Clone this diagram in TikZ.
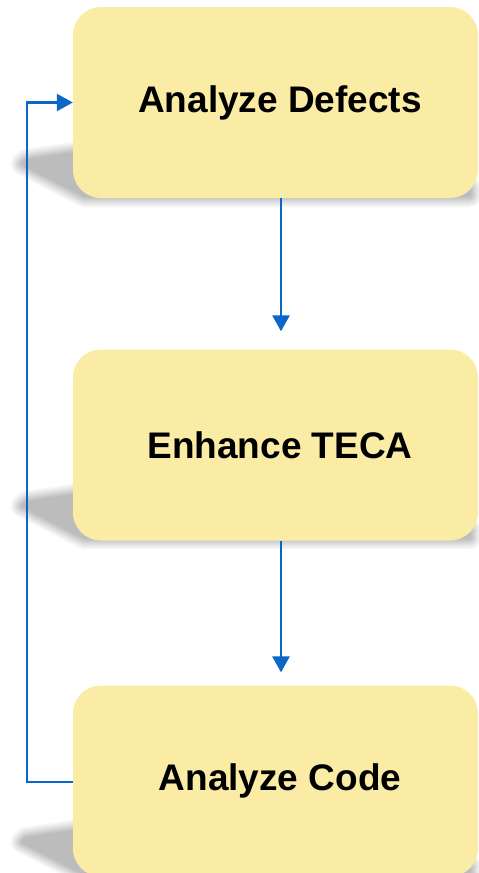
\documentclass[tikz,border=0pt]{standalone}
\usepackage{fontspec}
\setmainfont{Liberation Sans}
\usetikzlibrary{arrows.meta,calc}
\definecolor{boxfill}{HTML}{FBECA5}
\definecolor{arrowblue}{HTML}{0A66C8}
\tikzset{
  stepbox/.style={fill=boxfill, draw=none, rounded corners=28pt, minimum width=405pt, minimum height=191pt, inner sep=0pt, font=\fontsize{37}{44}\selectfont\bfseries, text=black},
  arr/.style={draw=arrowblue, line width=2.8pt, -{Triangle[width=17pt,length=16pt]}},
  feed/.style={draw=arrowblue, line width=2.4pt, -{Triangle[width=17pt,length=16pt]}},
}
\newcommand{\boxshadow}[1]{%
  \foreach \w in {22,19,16,13,11,9,7,5,3,1}{%
    \begin{scope}[transparency group, opacity=0.065]
      \filldraw[black!50, line width=\w pt, line join=round]
        (80,#1-46) -- (26,#1-38) -- (22,#1-34) -- (84,#1-2) -- (470,#1-2) -- (470,#1-10) -- cycle;
    \end{scope}}%
}
\begin{document}
\begin{tikzpicture}[x=1pt,y=-1pt]
\useasboundingbox (0,0) rectangle (479,873);
\fill[white] (0,0) rectangle (479,873);
\boxshadow{198}
\boxshadow{540}
\boxshadow{876}
\node[stepbox] (b1) at (275.5,102.5) {\hspace*{9pt}Analyze Defects};
\node[stepbox] (b2) at (275.5,445) {\hspace*{9pt}Enhance TECA};
\node[stepbox] (b3) at (275.5,781) {\hspace*{9pt}Analyze Code};
\draw[arr] ([xshift=5.5pt]b1.south) -- ([xshift=5.5pt,yshift=18pt]b2.north);
\draw[arr] ([xshift=5.5pt]b2.south) -- ([xshift=5.5pt,yshift=13pt]b3.north);
\draw[feed] ([yshift=-1pt]b3.west) -- ++(-46,0) |- (b1.west);
\end{tikzpicture}
\end{document}
